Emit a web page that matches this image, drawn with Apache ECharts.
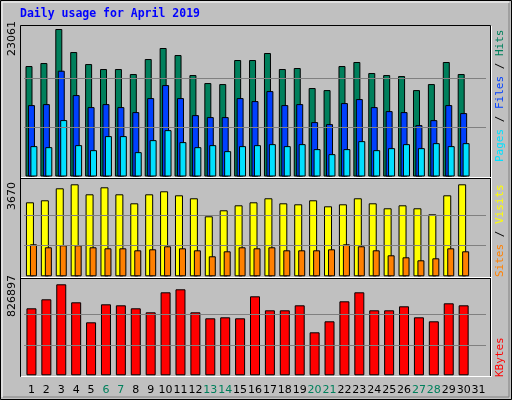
<!DOCTYPE html>
<html><head><meta charset="utf-8">
<script src="https://cdn.jsdelivr.net/npm/echarts@6/dist/echarts.min.js"></script>
<style>html,body{margin:0;padding:0;background:#c0c0c0}#c{width:512px;height:400px}</style>
</head><body><div id="c"></div>
<script>
// daily usage, April 2019
var days = [];
for (var i = 1; i <= 31; i++) days.push(String(i));
var weekend = [6,7,13,14,20,21,27,28];

var hits  = [17270,17740,23061,19460,17580,16800,16800,16020,18365,20090,18990,15860,14610,14450,18210,18210,19305,16800,16960,13830,13510,17270,17900,16175,15860,15705,13510,14450,17900,16020,'-'];
var files = [11165,11320,16540,12730,10850,11320,10850,10070,12260,14295,12260,9600,9290,9290,12260,11790,13355,11165,11320,8505,8190,11480,12105,10850,10225,10070,8035,8815,11165,9915,'-'];
var pages = [4750,4590,8820,4905,4120,6315,6315,3810,5685,7250,5375,4590,4905,3965,4750,4905,5060,4750,5060,4280,3495,4280,5530,4120,4435,5060,4435,5215,4750,5215,'-'];
var visits = [2952,3032,3510,3670,3271,3550,3271,2912,3271,3391,3231,3112,2393,2633,2832,2952,3112,2912,2872,3032,2792,2872,3112,2912,2713,2832,2713,2473,3231,3670,'-'];
var sites  = [1277,1157,1237,1237,1157,1117,1117,1037,1077,1197,1117,1037,798,997,1157,1117,1157,1037,1037,1037,1077,1277,1197,1037,838,758,638,718,1117,997,'-'];
var kbytes = [608810,690600,826897,663340,481600,645170,636080,608810,572470,754210,781470,572470,517950,527040,517950,717860,590640,590640,636080,390740,490690,672430,754210,590640,590640,627000,527040,490690,654250,636080,'-'];

var maxHits = 23061, maxVisits = 3670, maxK = 826897;

var chart = echarts.init(document.getElementById('c'));

function guides(m) {
	return {
		silent: true, symbol: 'none', label: {show: false},
		lineStyle: {color: '#808080', type: 'solid', width: 1},
		data: [{yAxis: m / 3}, {yAxis: m * 2 / 3}]
	};
}
function xAx(idx, showLabels) {
	return {
		type: 'category', gridIndex: idx, data: days,
		axisLine: {show: false}, axisTick: {show: false},
		axisLabel: {
			show: showLabels, interval: 0, margin: 9, fontSize: 11, fontFamily: 'DejaVu Sans',
			color: function (v) { return weekend.indexOf(+v) >= 0 ? '#00805c' : '#000'; }
		}
	};
}
function yAx(idx, m) {
	return {type: 'value', gridIndex: idx, min: 0, max: m, show: false, splitLine: {show: false}};
}
var edge = {borderColor: '#000', borderWidth: 1};

var option = {
	backgroundColor: '#c0c0c0',
	animation: false,
	grid: [
		{left: 24, right: 26, top: 29, height: 147.5},
		{left: 24, right: 26, top: 184.3, height: 92},
		{left: 24, right: 26, top: 284.3, height: 91}
	],
	xAxis: [xAx(0, false), xAx(1, false), xAx(2, true)],
	yAxis: [yAx(0, maxHits), yAx(1, maxVisits), yAx(2, maxK)],
	graphic: [
		{type: 'rect', shape: {x: 0.5, y: 0.5, width: 511, height: 399}, style: {fill: 'none', stroke: '#000'}, z: 0},
		{type: 'polyline', shape: {points: [[2, 397], [2, 2], [509, 2]]}, style: {stroke: '#fff', fill: 'none'}},
		{type: 'polyline', shape: {points: [[3, 397], [509, 397], [509, 3]]}, style: {stroke: '#808080', fill: 'none'}},
		{type: 'rect', shape: {x: 20.5, y: 25.5, width: 470, height: 351}, style: {fill: 'none', stroke: '#000'}},
		{type: 'polyline', shape: {points: [[21, 376.5], [491.5, 376.5], [491.5, 26]]}, style: {stroke: '#fff', fill: 'none'}},
		{type: 'line', shape: {x1: 21, y1: 177.5, x2: 491, y2: 177.5}, style: {stroke: '#fff'}},
		{type: 'line', shape: {x1: 21, y1: 178.5, x2: 491, y2: 178.5}, style: {stroke: '#000'}},
		{type: 'line', shape: {x1: 21, y1: 277.5, x2: 491, y2: 277.5}, style: {stroke: '#fff'}},
		{type: 'line', shape: {x1: 21, y1: 278.5, x2: 491, y2: 278.5}, style: {stroke: '#000'}},
		{type: 'text', left: 20, top: 8, style: {text: 'Daily usage for April 2019', fill: '#0000ff', font: 'bold 11.5px "DejaVu Sans Mono"'}},
		{type: 'text', x: 7, y: 56, rotation: Math.PI / 2, style: {text: String(maxHits), fill: '#000', font: '11px "DejaVu Sans"'}},
		{type: 'text', x: 7, y: 210, rotation: Math.PI / 2, style: {text: String(maxVisits), fill: '#000', font: '11px "DejaVu Sans"'}},
		{type: 'text', x: 7, y: 317, rotation: Math.PI / 2, style: {text: String(maxK), fill: '#000', font: '11px "DejaVu Sans"'}},
		{type: 'text', x: 495, y: 162, rotation: Math.PI / 2, style: {
			text: '{p|Pages} {s|/} {f|Files} {s|/} {h|Hits}', font: '11px "DejaVu Sans Mono"',
			rich: {p: {fill: '#00e0ff'}, f: {fill: '#0040ff'}, h: {fill: '#00805c'}, s: {fill: '#000'}}}},
		{type: 'text', x: 495, y: 277, rotation: Math.PI / 2, style: {
			text: '{a|Sites} {s|/} {b|Visits}', font: '11px "DejaVu Sans Mono"',
			rich: {a: {fill: '#ff8000'}, b: {fill: '#ffff00'}, s: {fill: '#000'}}}},
		{type: 'text', x: 495, y: 377, rotation: Math.PI / 2, style: {text: 'KBytes', fill: '#ff0000', font: '11px "DejaVu Sans Mono"'}}
	],
	series: [
		{type: 'bar', xAxisIndex: 0, yAxisIndex: 0, data: hits, barWidth: 7, barGap: '-65%', itemStyle: Object.assign({color: '#00805c'}, edge), markLine: guides(maxHits), z: 2},
		{type: 'bar', xAxisIndex: 0, yAxisIndex: 0, data: files, barWidth: 7, barGap: '-65%', itemStyle: Object.assign({color: '#0040ff'}, edge), z: 3},
		{type: 'bar', xAxisIndex: 0, yAxisIndex: 0, data: pages, barWidth: 7, barGap: '-65%', itemStyle: Object.assign({color: '#00e0ff'}, edge), z: 4},
		{type: 'bar', xAxisIndex: 1, yAxisIndex: 1, data: visits, barWidth: 8, barGap: '-50%', itemStyle: Object.assign({color: '#ffff00'}, edge), markLine: guides(maxVisits), z: 2},
		{type: 'bar', xAxisIndex: 1, yAxisIndex: 1, data: sites, barWidth: 7, barGap: '-50%', itemStyle: Object.assign({color: '#ff8000'}, edge), z: 3},
		{type: 'bar', xAxisIndex: 2, yAxisIndex: 2, data: kbytes, barWidth: 10, itemStyle: Object.assign({color: '#ff0000'}, edge), markLine: guides(maxK), z: 2}
	]
};
chart.setOption(option);
</script></body></html>
